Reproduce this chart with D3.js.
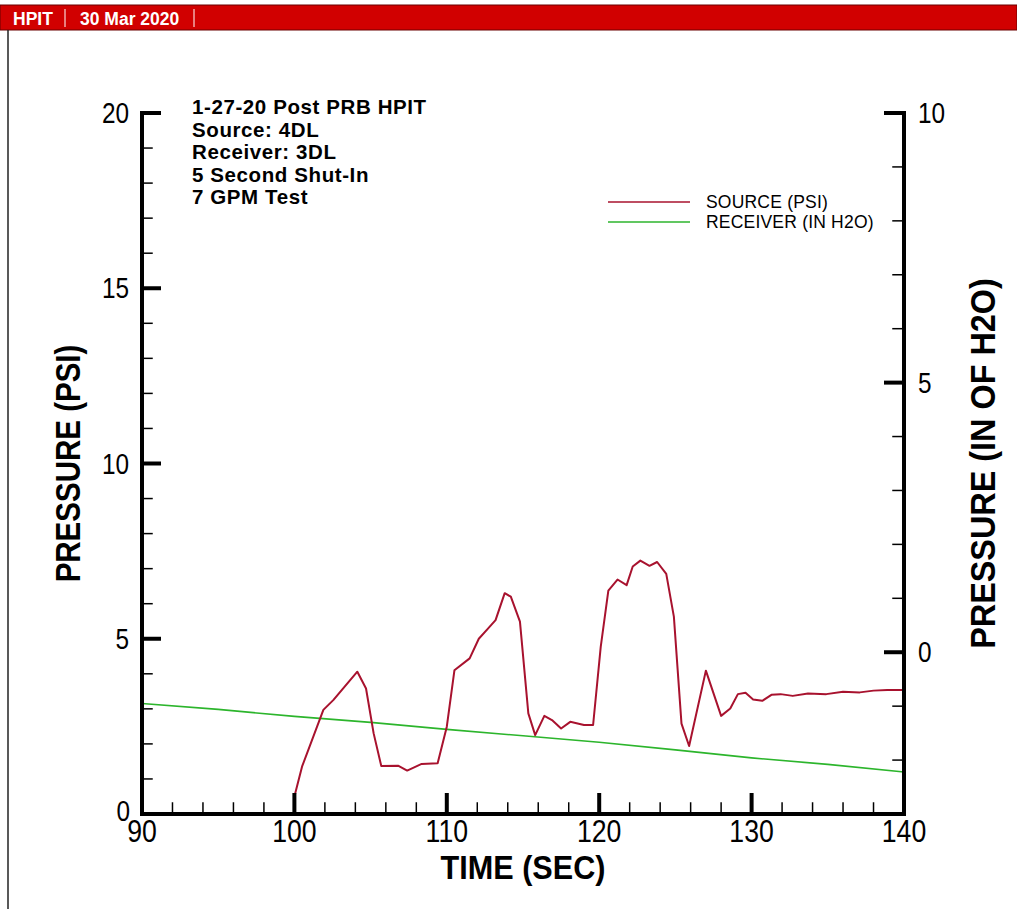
<!DOCTYPE html>
<html>
<head>
<meta charset="utf-8">
<script src="https://cdn.jsdelivr.net/npm/d3@7"></script>
<style>
  html, body { margin: 0; padding: 0; background: #fff; }
  svg { display: block; }
</style>
</head>
<body>
<div id="chart"></div>
<script>
// Source pressure trace (left axis, PSI)
const sourceTime = [100, 100.5, 101.9, 102.55, 104.13, 104.7, 105.2, 105.7, 106.8, 107.4,
  108.35, 109.4, 110.0, 110.5, 111.5, 112.1, 112.7, 113.2, 113.8, 114.2,
  114.8, 115.35, 115.8, 116.4, 116.9, 117.5, 118.1, 119.0, 119.6, 120.1,
  120.6, 121.2, 121.8, 122.2, 122.7, 123.3, 123.8, 124.4, 124.9, 125.4,
  125.9, 127.0, 128.0, 128.6, 129.1, 129.6, 130.1, 130.7, 131.3, 131.9,
  132.7, 133.7, 134.9, 136.0, 137.1, 138.0, 138.9, 140];
const sourcePsi = [0.5, 1.35, 2.97, 3.25, 4.06, 3.58, 2.3, 1.37, 1.38, 1.24,
  1.43, 1.45, 2.49, 4.1, 4.44, 5.0, 5.29, 5.53, 6.3, 6.2,
  5.49, 2.87, 2.25, 2.8, 2.68, 2.44, 2.63, 2.54, 2.54, 4.77,
  6.37, 6.69, 6.53, 7.06, 7.23, 7.08, 7.19, 6.85, 5.63, 2.58,
  1.94, 4.09, 2.8, 3.01, 3.42, 3.46, 3.27, 3.23, 3.40, 3.42,
  3.37, 3.44, 3.42, 3.49, 3.47, 3.52, 3.54, 3.54];

// Receiver pressure trace (right axis, IN H2O)
const receiverTime = [90, 95, 100, 105, 110, 115, 120, 125, 130, 135, 140];
const receiverH2O = [-0.95, -1.06, -1.19, -1.30, -1.43, -1.55, -1.67, -1.81, -1.96, -2.08, -2.22];

// Axis ticks
const xMajor = [90, 100, 110, 120, 130, 140];
const xMinor = d3.range(92, 140, 2);
const leftMajor = [0, 5, 10, 15, 20];
const leftMinor = d3.range(1, 20, 1);
const rightMajor = [0, 5, 10];
const rightMinor = d3.range(-2, 10, 1);

const notes = ['1-27-20 Post PRB HPIT', 'Source: 4DL', 'Receiver: 3DL', '5 Second Shut-In', '7 GPM Test'];
const legendItems = [
  { label: 'SOURCE (PSI)', color: '#a8122e' },
  { label: 'RECEIVER (IN H2O)', color: '#2cb52c' }
];

const W = 1017, H = 909;
const plot = { left: 142, right: 904, top: 113, bottom: 814 };
const sans = '"Liberation Sans", Arial, sans-serif';

const svg = d3.select('#chart').append('svg').attr('width', W).attr('height', H);

const x = d3.scaleLinear().domain([90, 140]).range([plot.left, plot.right]);
const yL = d3.scaleLinear().domain([0, 20]).range([plot.bottom, plot.top]);
const yR = d3.scaleLinear().domain([-3, 10]).range([plot.bottom, plot.top]);

// condensed text: no narrow face installed, so squeeze horizontally
function narrowText(g, tx, ty, str, size, weight, anchor, sx, rot) {
  return g.append('text')
    .attr('transform', `translate(${tx},${ty})${rot ? ` rotate(${rot})` : ''} scale(${sx},1)`)
    .attr('text-anchor', anchor)
    .style('font', `${weight} ${size}px ${sans}`)
    .text(str);
}

// header bar + frame
svg.append('rect').attr('x', 0).attr('y', 5).attr('width', W).attr('height', 25)
  .attr('fill', '#d10000').attr('stroke', '#6a0000').attr('stroke-width', 1);
svg.append('line').attr('x1', 8).attr('x2', 8).attr('y1', 30).attr('y2', H)
  .attr('stroke', '#222').attr('stroke-width', 1.5);
svg.append('text').attr('x', 13).attr('y', 25).text('HPIT')
  .attr('fill', '#fff').style('font', `bold 17.5px ${sans}`);
svg.append('text').attr('x', 80).attr('y', 25).text('30 Mar 2020')
  .attr('fill', '#fff').style('font', `bold 17.5px ${sans}`);
[65, 194].forEach(sx => svg.append('line').attr('x1', sx).attr('x2', sx).attr('y1', 9).attr('y2', 27)
  .attr('stroke', '#fff').attr('stroke-width', 1));

// data lines
const srcLine = d3.line().x((d, i) => x(sourceTime[i])).y(d => yL(d));
const rcvLine = d3.line().x((d, i) => x(receiverTime[i])).y(d => yR(d));
svg.append('path').attr('d', rcvLine(receiverH2O)).attr('fill', 'none')
  .attr('stroke', legendItems[1].color).attr('stroke-width', 1.6);
svg.append('path').attr('d', srcLine(sourcePsi)).attr('fill', 'none')
  .attr('stroke', legendItems[0].color).attr('stroke-width', 2).attr('stroke-linejoin', 'round');

// axes
const ax = svg.append('g').attr('stroke', '#000').attr('stroke-linecap', 'square');
ax.append('line').attr('x1', plot.left).attr('x2', plot.left).attr('y1', plot.top).attr('y2', plot.bottom).attr('stroke-width', 4);
ax.append('line').attr('x1', plot.right).attr('x2', plot.right).attr('y1', plot.top).attr('y2', plot.bottom).attr('stroke-width', 4);
ax.append('line').attr('x1', plot.left).attr('x2', plot.right).attr('y1', plot.bottom).attr('y2', plot.bottom).attr('stroke-width', 4);

xMinor.filter(v => !xMajor.includes(v)).forEach(v => ax.append('line')
  .attr('x1', x(v)).attr('x2', x(v)).attr('y1', plot.bottom).attr('y2', plot.bottom - 11).attr('stroke-width', 1.5));
xMajor.slice(1, -1).forEach(v => ax.append('line')
  .attr('x1', x(v)).attr('x2', x(v)).attr('y1', plot.bottom).attr('y2', plot.bottom - 19).attr('stroke-width', 4));

leftMinor.filter(v => !leftMajor.includes(v)).forEach(v => ax.append('line')
  .attr('x1', plot.left).attr('x2', plot.left + 10).attr('y1', yL(v)).attr('y2', yL(v)).attr('stroke-width', 1.5));
leftMajor.slice(1).forEach(v => ax.append('line')
  .attr('x1', plot.left).attr('x2', plot.left + 17).attr('y1', yL(v)).attr('y2', yL(v)).attr('stroke-width', 4));

rightMinor.filter(v => !rightMajor.includes(v)).forEach(v => ax.append('line')
  .attr('x1', plot.right).attr('x2', plot.right - 11).attr('y1', yR(v)).attr('y2', yR(v)).attr('stroke-width', 1.5));
rightMajor.forEach(v => ax.append('line')
  .attr('x1', plot.right).attr('x2', plot.right - 18).attr('y1', yR(v)).attr('y2', yR(v)).attr('stroke-width', 4));

// tick labels
const lbl = svg.append('g').attr('fill', '#000');
xMajor.forEach(v => narrowText(lbl, x(v), 841.5, v, 31, 'normal', 'middle', 0.86));
leftMajor.forEach(v => narrowText(lbl, v === 0 ? 130 : 129, yL(v) + (v === 0 ? 7 : 10), v, 29, 'normal', 'end', 0.84));
rightMajor.forEach(v => narrowText(lbl, 918, yR(v) + 10, v, 29, 'normal', 'start', 0.84));

// axis titles
narrowText(lbl, (plot.left + plot.right) / 2, 879, 'TIME (SEC)', 34, 'bold', 'middle', 0.9);
narrowText(lbl, 80, (plot.top + plot.bottom) / 2, 'PRESSURE (PSI)', 36, 'bold', 'middle', 0.82, -90);
narrowText(lbl, 995, (plot.top + plot.bottom) / 2, 'PRESSURE (IN OF H2O)', 36, 'bold', 'middle', 0.9, -90);

// annotation block
notes.forEach((t, i) => lbl.append('text').attr('x', 192).attr('y', 114 + i * 22.5)
  .style('font', `bold 20.5px ${sans}`).style('letter-spacing', '0.6px').text(t));

// legend
legendItems.forEach((d, i) => {
  const ly = 202 + i * 20;
  svg.append('line').attr('x1', 608).attr('x2', 690).attr('y1', ly).attr('y2', ly)
    .attr('stroke', d.color).attr('stroke-width', 1.6);
  svg.append('text').attr('x', 706).attr('y', ly + 6).style('font', `17.5px ${sans}`)
    .style('letter-spacing', '0.2px').text(d.label);
});
</script>
</body>
</html>
